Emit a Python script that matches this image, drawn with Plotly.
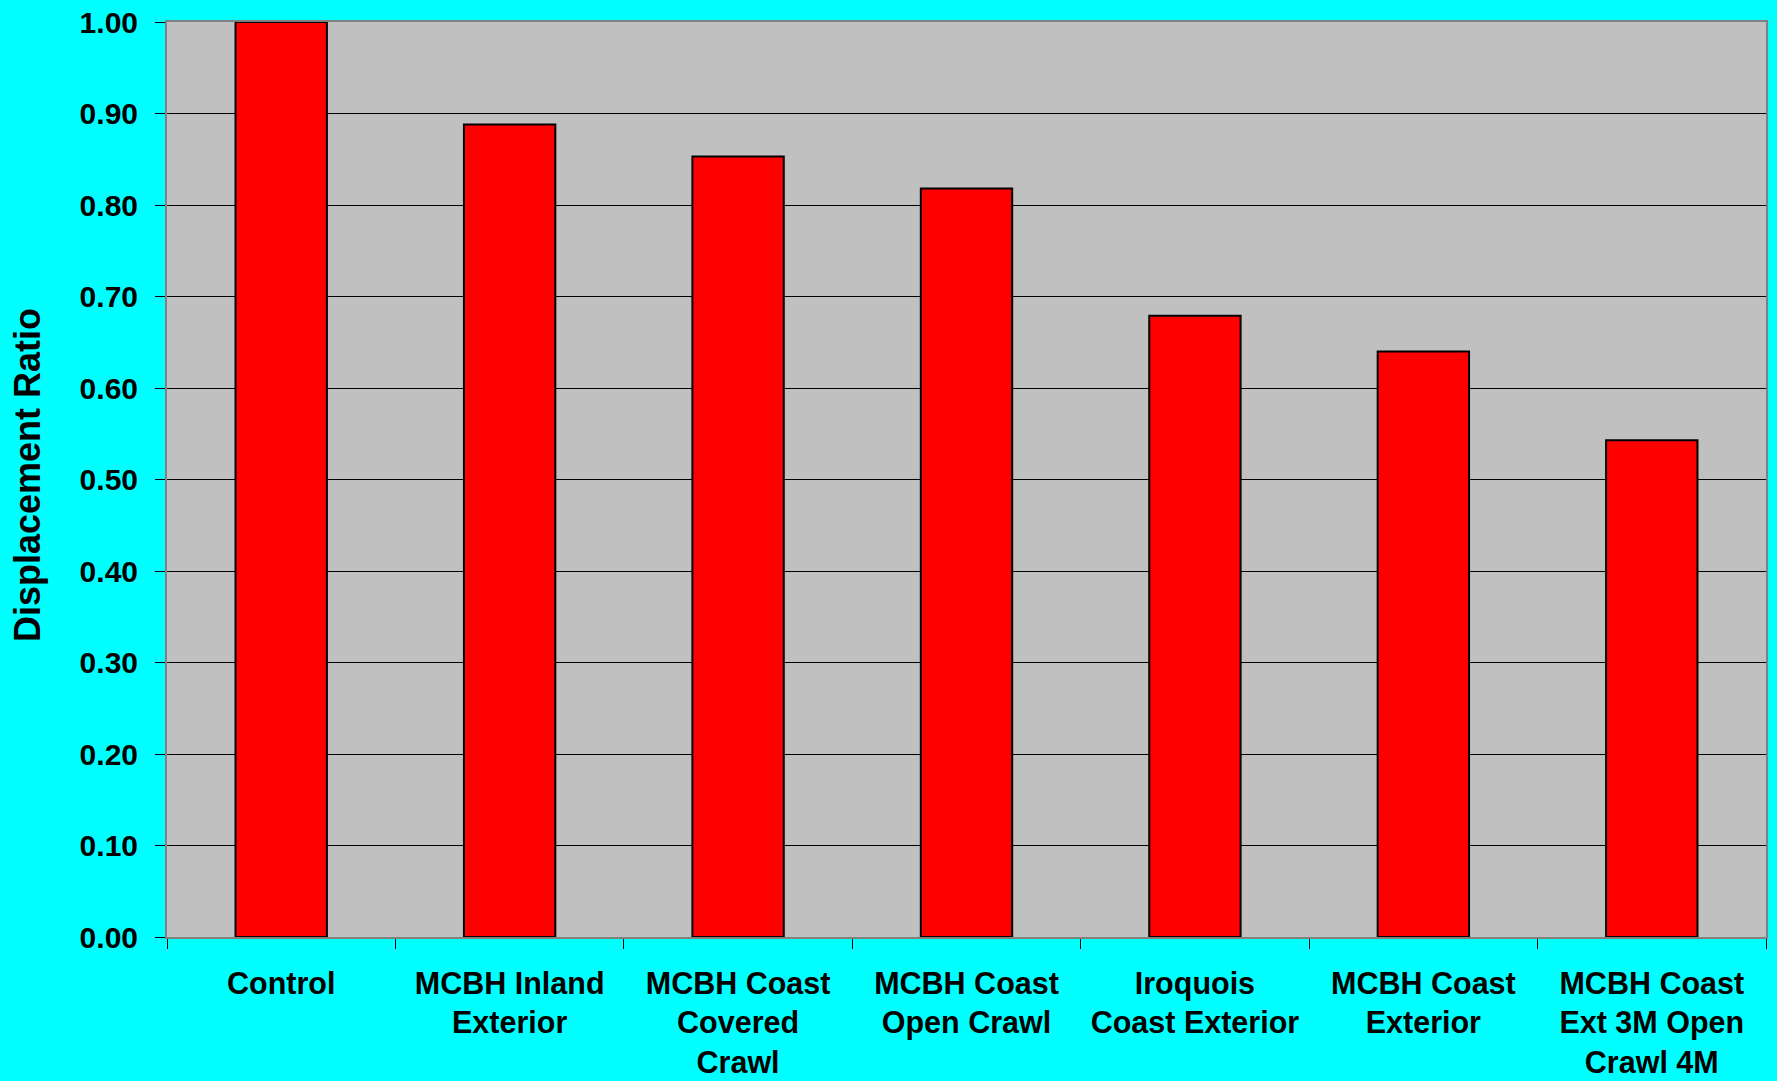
import plotly.graph_objects as go

categories = [
    "Control",
    "MCBH Inland<br>Exterior",
    "MCBH Coast<br>Covered<br>Crawl",
    "MCBH Coast<br>Open Crawl",
    "Iroquois<br>Coast Exterior",
    "MCBH Coast<br>Exterior",
    "MCBH Coast<br>Ext 3M Open<br>Crawl 4M",
]
values = [1.00, 0.888, 0.853, 0.818, 0.679, 0.640, 0.543]
y_ticks = [0.0, 0.1, 0.2, 0.3, 0.4, 0.5, 0.6, 0.7, 0.8, 0.9, 1.0]
y_tick_labels = ["%.2f" % v for v in y_ticks]

FONT = "Liberation Sans, Arial, sans-serif"

fig = go.Figure(
    go.Bar(
        x=categories,
        y=values,
        marker=dict(color="#FF0000", line=dict(color="#000000", width=2)),
        width=0.4,
    )
)

W, H = 1777, 1081
ml, mr, mt, mb = 167, 11, 22, 144
plot_w = W - ml - mr

fig.update_layout(
    width=W,
    height=H,
    autosize=False,
    margin=dict(l=ml, r=mr, t=mt, b=mb, pad=0, autoexpand=False),
    paper_bgcolor="#00FFFF",
    plot_bgcolor="#C0C0C0",
    showlegend=False,
    font=dict(family=FONT, color="#000000"),
    xaxis=dict(
        type="category",
        tickson="boundaries",
        ticks="outside",
        ticklen=10,
        tickcolor="#000000",
        tickwidth=1,
        showline=True,
        linecolor="#808080",
        linewidth=2,
        mirror=True,
        showgrid=False,
        automargin=False,
        tickfont=dict(family=FONT, size=30.5, color="#000000", weight="bold"),
        ticklabelstandoff=18,
    ),
    yaxis=dict(
        range=[0, 1.0],
        tickvals=y_ticks,
        ticktext=y_tick_labels,
        ticks="outside",
        ticklen=10,
        tickcolor="#000000",
        tickwidth=1,
        showline=True,
        linecolor="#808080",
        linewidth=2,
        mirror=True,
        showgrid=True,
        gridcolor="#000000",
        gridwidth=1,
        zeroline=False,
        automargin=False,
        tickfont=dict(family=FONT, size=30, color="#000000", weight="bold"),
        ticklabelstandoff=11,
    ),
    annotations=[
        dict(
            text="Displacement Ratio",
            textangle=-90,
            xref="paper",
            yref="paper",
            x=(28 - ml) / plot_w,
            y=(H - 475 - mb) / (H - mt - mb),
            xanchor="center",
            yanchor="middle",
            showarrow=False,
            font=dict(family=FONT, size=36, color="#000000", weight="bold"),
        )
    ],
)

fig.write_html(
    "out.html",
    config={"displayModeBar": False},
    post_script="document.body.style.margin='0';document.body.style.overflow='hidden';",
)
